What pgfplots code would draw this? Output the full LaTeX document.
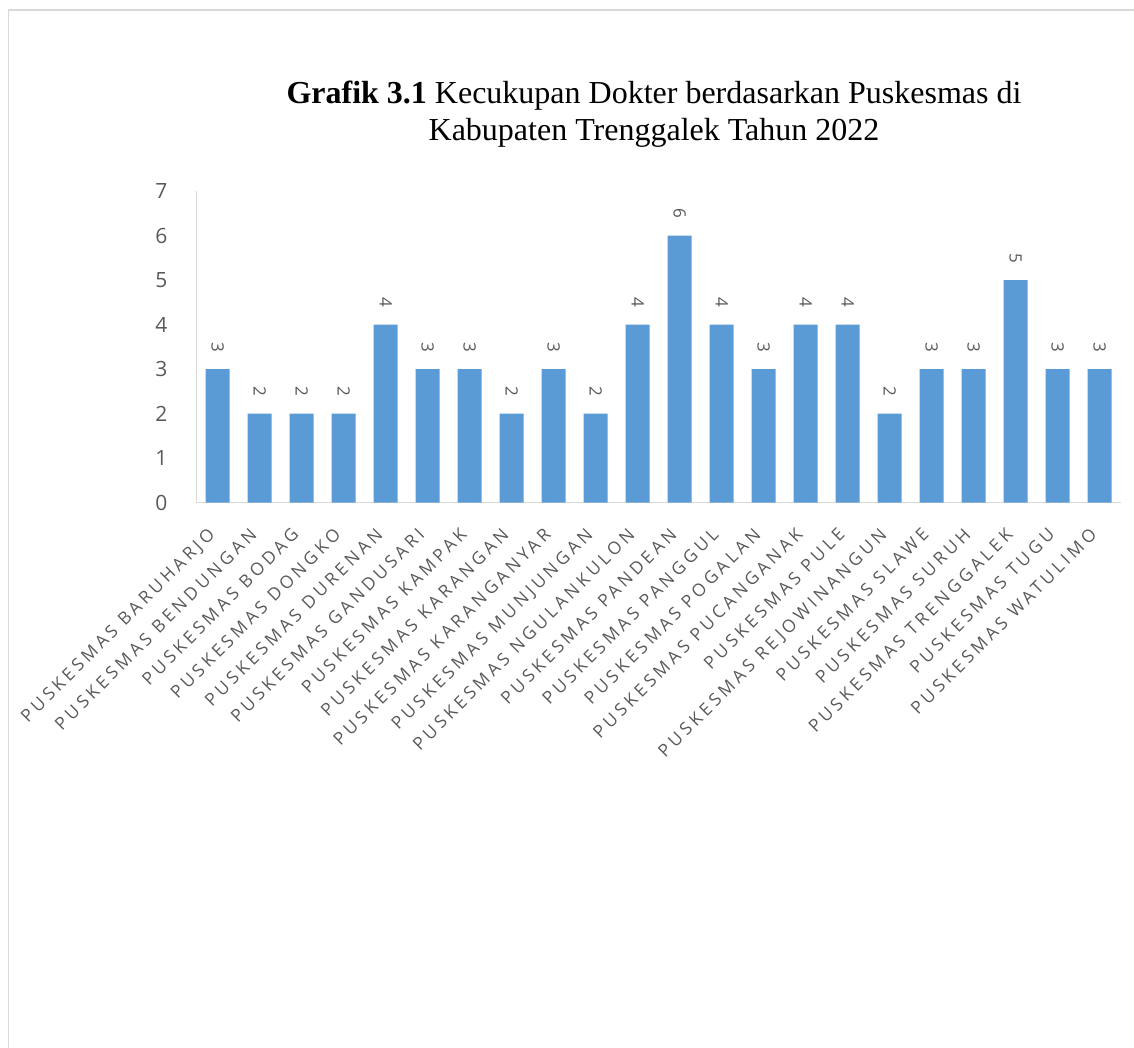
\documentclass[border=0pt]{standalone}
\usepackage{fontspec}
\setmainfont{Liberation Serif}
\newfontfamily\labfont[LetterSpace=21]{Open Sans}
\newfontfamily\numfont{Open Sans}
\usepackage{pgfplots}
\pgfplotsset{compat=1.18}
\definecolor{barblue}{HTML}{5B9BD5}
\definecolor{txtgray}{HTML}{595959}
\definecolor{axgray}{HTML}{D9D9D9}
\begin{document}
\begin{tikzpicture}
\path[use as bounding box] (0,0) rectangle (1134pt,-1048pt);
\draw[axgray, line width=1.6pt] (8.5pt,-1048pt) -- (8.5pt,-10pt) -- (1134pt,-10pt);
\node[font=\fontsize{32}{37}\selectfont, align=center, anchor=center] at (654pt,-114pt)
  {\textbf{Grafik 3.1} Kecukupan Dokter berdasarkan Puskesmas di\\Kabupaten Trenggalek Tahun 2022};
\begin{axis}[
  at={(196.7pt,-502.7pt)}, anchor=south west,
  scale only axis, width=924pt, height=311.7pt,
  ymin=0, ymax=7, xmin=-0.5, xmax=21.5,
  enlarge x limits=false,
  axis lines*=left,
  axis line style={draw=axgray, line width=1.5pt, -},
  ytick={0,1,...,7},
  major tick length=0pt,
  /pgf/number format/assume math mode=true,
  yticklabel style={font=\numfont\fontsize{21}{21}\selectfont, text=txtgray, inner sep=0pt, xshift=-29pt},
  xtick=data,
  xticklabels={PUSKESMAS BARUHARJO,PUSKESMAS BENDUNGAN,PUSKESMAS BODAG,PUSKESMAS DONGKO,PUSKESMAS DURENAN,PUSKESMAS GANDUSARI,PUSKESMAS KAMPAK,PUSKESMAS KARANGAN,PUSKESMAS KARANGANYAR,PUSKESMAS MUNJUNGAN,PUSKESMAS NGULANKULON,PUSKESMAS PANDEAN,PUSKESMAS PANGGUL,PUSKESMAS POGALAN,PUSKESMAS PUCANGANAK,PUSKESMAS PULE,PUSKESMAS REJOWINANGUN,PUSKESMAS SLAWE,PUSKESMAS SURUH,PUSKESMAS TRENGGALEK,PUSKESMAS TUGU,PUSKESMAS WATULIMO},
  xticklabel style={font=\labfont\fontsize{17.5}{17.5}\selectfont, text=txtgray, xshift=-11pt, yshift=-24pt, rotate=45, anchor=north east, inner sep=0pt},
  nodes near coords,
  nodes near coords style={font=\numfont\fontsize{17}{17}\selectfont, text=txtgray, yshift=22pt, rotate=-90, anchor=center, inner sep=0pt},
]
\addplot[ybar, bar width=24pt, fill=barblue, draw=none] coordinates {
(0,3) (1,2) (2,2) (3,2) (4,4) (5,3) (6,3) (7,2) (8,3) (9,2) (10,4)
(11,6) (12,4) (13,3) (14,4) (15,4) (16,2) (17,3) (18,3) (19,5) (20,3) (21,3)
};
\end{axis}
\end{tikzpicture}
\end{document}
